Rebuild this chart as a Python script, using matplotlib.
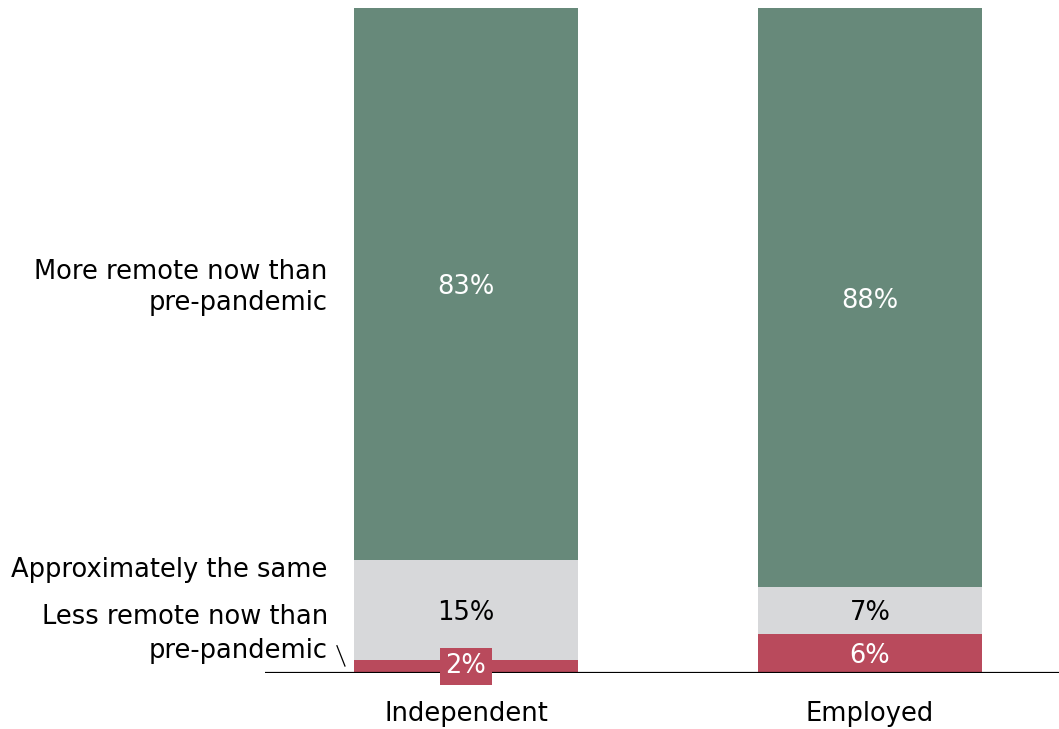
import matplotlib
matplotlib.use("Agg")
import matplotlib.pyplot as plt
import numpy as np

# Survey shares (%) for each worker group
groups = ["Independent", "Employed"]
less_remote = [2, 6]
same = [15, 7]
more_remote = [83, 88]

segment_names = ["Less remote now than\npre-pandemic", "Approximately the same",
                 "More remote now than\npre-pandemic"]

colors = {"less": "#b94a5c", "same": "#d7d8da", "more": "#67897a"}

plt.rcParams["font.family"] = ["DejaVu Sans"]
FS = 18.5

fig = plt.figure(figsize=(10.59, 7.29), dpi=100)
ax = fig.add_axes([0.2502, 0.0768, 0.7498, 0.9122])

x = np.arange(len(groups))
width = 0.554

less = np.array(less_remote, float)
mid = np.array(same, float)
more = np.array(more_remote, float)
totals = less + mid + more
# each bar scaled to its group's total
l_h = less / totals * 100
s_h = mid / totals * 100
m_h = more / totals * 100

ax.bar(x, l_h, width, color=colors["less"])
ax.bar(x, s_h, width, bottom=l_h, color=colors["same"])
ax.bar(x, m_h, width, bottom=l_h + s_h, color=colors["more"])

for i in range(len(groups)):
    # less remote: small segments get a boxed label
    if less[i] < 4:
        ax.text(x[i], l_h[i] / 2, f"{less_remote[i]}%", ha="center", va="center",
                fontsize=FS, color="white",
                bbox=dict(boxstyle="square,pad=0.22", fc=colors["less"], ec="none"))
    else:
        ax.text(x[i], l_h[i] / 2, f"{less_remote[i]}%", ha="center",
                va="center_baseline", fontsize=FS, color="white")
    ax.text(x[i], l_h[i] + s_h[i] / 2, f"{same[i]}%", ha="center",
            va="center_baseline", fontsize=FS, color="black")
    ax.text(x[i], l_h[i] + s_h[i] + m_h[i] / 2, f"{more_remote[i]}%", ha="center",
            va="center_baseline", fontsize=FS, color="white")

ax.set_xlim(-0.4975, 1.468)
ax.set_ylim(0, 100)

# segment names to the left of the first bar
lx = -0.342
ax.text(lx, 58.0, segment_names[2], ha="right", va="center", fontsize=FS,
        linespacing=1.28, clip_on=False)
ax.text(lx, 15.5, segment_names[1], ha="right", va="center", fontsize=FS,
        clip_on=False)
ax.text(lx, 5.9, segment_names[0], ha="right", va="center", fontsize=FS,
        linespacing=1.4, clip_on=False)
ax.plot([-0.3193, -0.2995], [4.1, 1.05], color="black", lw=0.9, clip_on=False)

ax.axhline(0, color="black", lw=1.6)
for s in ax.spines.values():
    s.set_visible(False)
ax.set_yticks([])
ax.set_xticks(x)
ax.set_xticklabels(groups, fontsize=FS)
ax.tick_params(axis="x", length=0, pad=20)

fig.savefig("out.png", dpi=100)
